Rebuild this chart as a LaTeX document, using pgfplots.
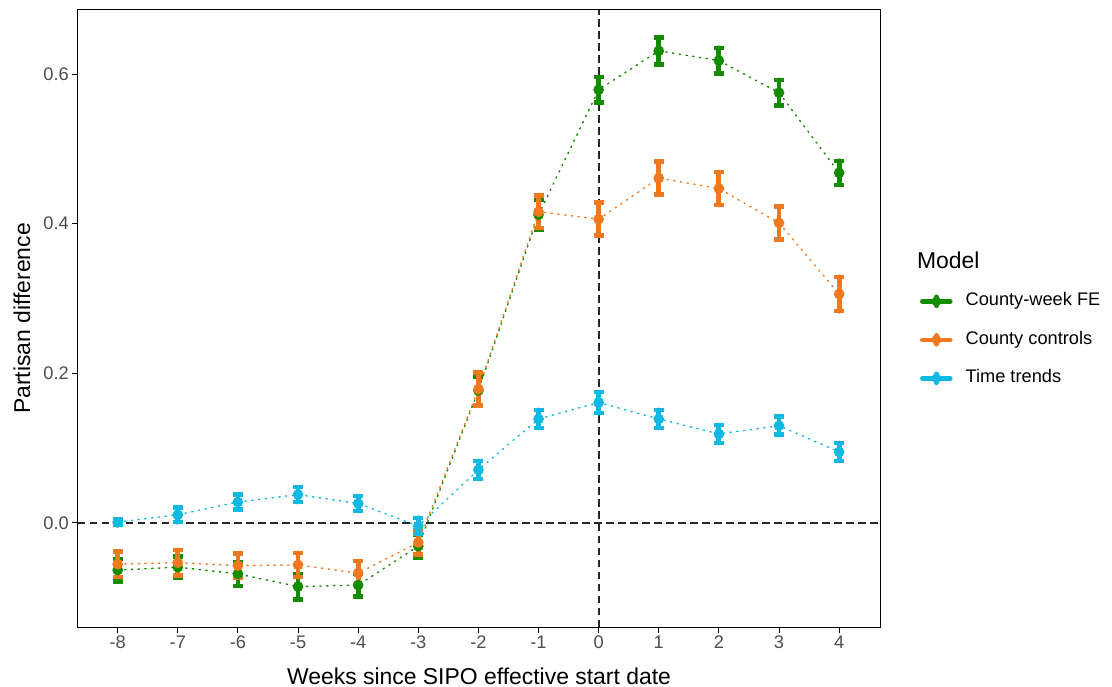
\documentclass[border=0pt]{standalone}
\usepackage{fontspec}
\setmainfont{Liberation Sans}
\usepackage{pgfplots}
\usepackage{pgfplotstable}
\pgfplotsset{compat=1.18}
\definecolor{cgreen}{RGB}{20,140,0}
\definecolor{corange}{RGB}{240,120,30}
\definecolor{cblue}{RGB}{16,185,225}
\definecolor{tickgray}{RGB}{77,77,77}

\pgfplotstableread{
x y e
-8 -0.063 0.015
-7 -0.059 0.014
-6 -0.068 0.016
-5 -0.085 0.017
-4 -0.083 0.015
-3 -0.031 0.015
-2 0.177 0.019
-1 0.412 0.020
0 0.579 0.017
1 0.631 0.018
2 0.618 0.017
3 0.575 0.017
4 0.468 0.016
}\fe
\pgfplotstableread{
x y e
-8 -0.055 0.017
-7 -0.053 0.017
-6 -0.057 0.016
-5 -0.056 0.016
-4 -0.067 0.016
-3 -0.026 0.016
-2 0.179 0.022
-1 0.416 0.022
0 0.406 0.022
1 0.461 0.022
2 0.447 0.022
3 0.401 0.022
4 0.306 0.023
}\cc
\pgfplotstableread{
x y e
-8 0.001 0.004
-7 0.011 0.010
-6 0.028 0.010
-5 0.038 0.010
-4 0.026 0.010
-3 -0.004 0.011
-2 0.071 0.012
-1 0.139 0.012
0 0.161 0.014
1 0.139 0.012
2 0.119 0.012
3 0.130 0.012
4 0.095 0.012
}\tt

\begin{document}
\begin{tikzpicture}
\begin{axis}[name=ax, at={(0,0)}, anchor=south west,
  scale only axis, width=802bp, height=617bp,
  xmin=-8.66, xmax=4.68, ymin=-0.139, ymax=0.6856,
  xtick={-8,-7,-6,-5,-4,-3,-2,-1,0,1,2,3,4},
  xticklabels={-8,-7,-6,-5,-4,-3,-2,-1,0,1,2,3,4},
  ytick={0,0.2,0.4,0.6}, yticklabels={0.0,0.2,0.4,0.6},
  tick align=outside, major tick length=5.7bp,
  tick style={black, line width=1bp},
  axis line style={line width=1bp},
  xtick pos=bottom, ytick pos=left,
  ticklabel style={font=\fontsize{18.3}{20}\selectfont, text=tickgray},
  xlabel={Weeks since SIPO effective start date},
  ylabel={Partisan difference},
  label style={font=\fontsize{23}{26}\selectfont},
  xlabel style={at={(axis description cs:0.5,-0.0794)}, anchor=center},
  ylabel style={at={(axis description cs:-0.0698,0.5)}, anchor=center},
  clip=false,
  legend cell align=left,
  legend style={at={(axis description cs:1.046,0.546)}, anchor=north west,
    draw=none, fill=none, font=\fontsize{18.3}{20}\selectfont,
    nodes={inner sep=0pt, text height=13.5bp, text depth=4.5bp},
    row sep=20.5bp, column sep=13bp},
  legend image code/.code={
    \draw[solid, line width=4.5bp] (0bp,0bp) -- (28bp,0bp);
    \draw[solid, line width=4.5bp] (14bp,-4.5bp) -- (14bp,4.5bp);
    \fill (14bp,0bp) circle (4.8bp);},
  error bars/y dir=both, error bars/y explicit,
  error bars/error bar style={line width=4.8bp, solid},
  error bars/error mark options={rotate=90, mark size=5bp, line width=4.5bp, solid},
]
\draw[black!85, line width=1.6bp, dash pattern=on 7.5bp off 4.5bp] (axis cs:-8.66,0) -- (axis cs:4.68,0);
\draw[black!85, line width=2bp, dash pattern=on 7.5bp off 4.5bp] (axis cs:0,-0.139) -- (axis cs:0,0.6856);
\addplot[cgreen, line width=1.4bp, dash pattern=on 1.4bp off 5.4bp, line cap=round,
  mark=*, mark size=4.6bp, mark options={solid, draw=cgreen, fill=cgreen}]
  table[x=x, y=y, y error=e] {\fe};
\addlegendentry{County-week FE}
\addplot[corange, line width=1.4bp, dash pattern=on 1.4bp off 5.4bp, line cap=round,
  mark=*, mark size=4.6bp, mark options={solid, draw=corange, fill=corange}]
  table[x=x, y=y, y error=e] {\cc};
\addlegendentry{County controls}
\addplot[cblue, line width=1.4bp, dash pattern=on 1.4bp off 5.4bp, line cap=round,
  mark=*, mark size=4.6bp, mark options={solid, draw=cblue, fill=cblue}]
  table[x=x, y=y, y error=e] {\tt};
\addlegendentry{Time trends}
\node[anchor=west, inner sep=0pt, font=\fontsize{23}{26}\selectfont] at (axis description cs:1.046,0.595) {Model};
\end{axis}
\pgfresetboundingbox
\path ([xshift=-78bp,yshift=-60bp]ax.south west) rectangle ([xshift=232bp,yshift=10bp]ax.north east);
\end{tikzpicture}
\end{document}
